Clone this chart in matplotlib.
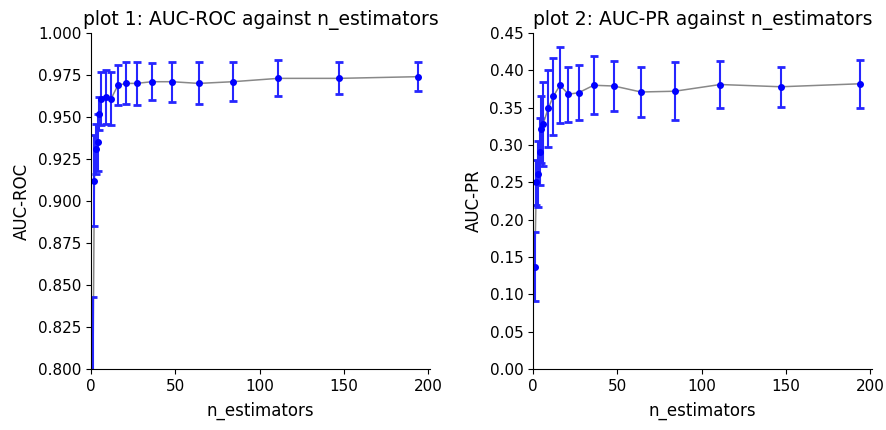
import matplotlib
matplotlib.use("Agg")
import matplotlib.pyplot as plt

n_estimators = [1, 2, 3, 4, 5, 6, 9, 12, 16, 21, 27, 36, 48, 64, 84, 111, 147, 194]
roc_mean = [0.775, 0.912, 0.931, 0.935, 0.952, 0.961, 0.962, 0.961, 0.969, 0.970,
            0.970, 0.971, 0.971, 0.970, 0.971, 0.973, 0.973, 0.974]
roc_std = [0.068, 0.027, 0.015, 0.017, 0.010, 0.016, 0.016, 0.016, 0.012, 0.0125,
           0.013, 0.011, 0.012, 0.0125, 0.0115, 0.0107, 0.0095, 0.0085]
pr_mean = [0.137, 0.250, 0.261, 0.291, 0.321, 0.328, 0.349, 0.365, 0.380, 0.368,
           0.370, 0.380, 0.379, 0.371, 0.372, 0.381, 0.378, 0.382]
pr_std = [0.046, 0.030, 0.044, 0.045, 0.045, 0.056, 0.052, 0.052, 0.051, 0.037,
          0.037, 0.039, 0.034, 0.033, 0.039, 0.031, 0.027, 0.032]

fig = plt.figure(figsize=(8.87, 4.30), dpi=100)
ax1 = fig.add_axes([91/887, 61/430, 339/887, 336/430])
ax2 = fig.add_axes([533/887, 61/430, 339/887, 336/430])

def draw(ax, mean, std, title, ylabel, ylim, yticks):
    ax.plot(n_estimators, mean, color="#888888", lw=1.1, zorder=1)
    ax.errorbar(n_estimators, mean, yerr=std, fmt="o", color="blue", ms=4,
                ecolor=(0.15, 0.15, 1.0), capsize=3, capthick=2, elinewidth=1.5,
                zorder=2)
    ax.set_xlim(0, 201)
    ax.set_ylim(*ylim)
    ax.set_yticks(yticks)
    ax.set_xticks([0, 50, 100, 150, 200])
    ax.set_title(title, fontsize=13.5)
    ax.set_xlabel("n_estimators", fontsize=12, labelpad=6)
    ax.set_ylabel(ylabel, fontsize=12, labelpad=5)
    ax.tick_params(labelsize=11)
    ax.spines["top"].set_visible(False)
    ax.spines["right"].set_visible(False)

draw(ax1, roc_mean, roc_std, "plot 1: AUC-ROC against n_estimators", "AUC-ROC",
     (0.8, 1.0), [0.8 + 0.025 * i for i in range(9)])
ax1.set_yticklabels(["%.3f" % (0.8 + 0.025 * i) for i in range(9)])
draw(ax2, pr_mean, pr_std, "plot 2: AUC-PR against n_estimators", "AUC-PR",
     (0.0, 0.45), [0.05 * i for i in range(10)])
ax2.set_yticklabels(["%.2f" % (0.05 * i) for i in range(10)])

fig.savefig("out.png", dpi=100)
